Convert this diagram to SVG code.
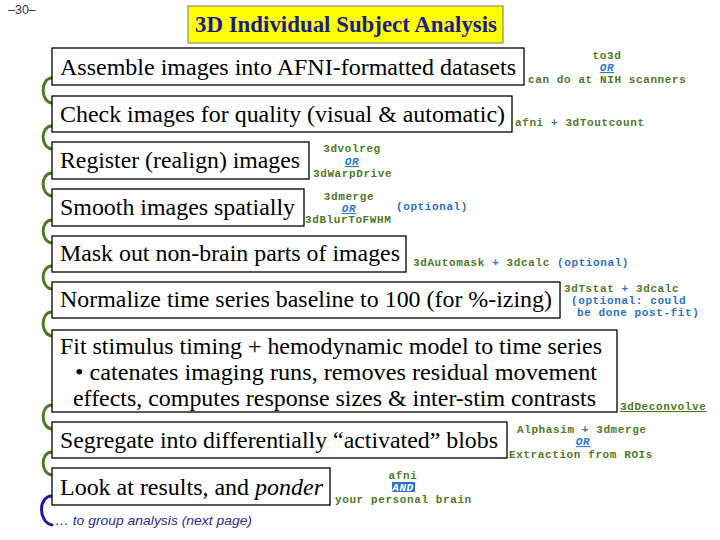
<svg xmlns="http://www.w3.org/2000/svg" width="720" height="540" viewBox="0 0 720 540">
<style>
.box{fill:#fff;stroke:#000;stroke-width:1.3}
.bt{font-family:"Liberation Serif","Times New Roman",serif;font-size:23.5px;fill:#000}
.an{font-family:"Liberation Mono","Courier New",monospace;font-size:11px;letter-spacing:0.6px;font-weight:bold;fill:#4f7a1f}
.bl{fill:#2a6fc9}
.or{fill:#2a7ad0;font-style:italic;text-decoration:underline}
.arc{fill:none;stroke:#4f7a1f;stroke-width:3;stroke-linecap:round}
.arcb{stroke:#1a1aa8}
</style>
<rect width="720" height="540" fill="#fff"/>
<text x="8" y="14" font-family="Liberation Sans,Arial,sans-serif" font-size="12.5" fill="#333">–30–</text>
<g id="title">
<rect x="188" y="6" width="315" height="37" fill="#ffff00" stroke="#777" stroke-width="1"/>
<text x="195" y="32" font-family="Liberation Serif,Times New Roman,serif" font-size="22.5" font-weight="bold" fill="#1c1c8c" textLength="302" lengthAdjust="spacingAndGlyphs">3D Individual Subject Analysis</text>
</g>
<g id="connectors">
<path class="arc" d="M52 78 C40 78,40 103,53 103"/>
<path class="arc" d="M52 126 C40 126,40 149,53 149"/>
<path class="arc" d="M52 173 C40 173,40 196,53 196"/>
<path class="arc" d="M52 220 C40 220,40 243,53 243"/>
<path class="arc" d="M52 266 C40 266,40 289,53 289"/>
<path class="arc" d="M52 312 C40 312,40 336,53 336"/>
<path class="arc" d="M52 405 C40 405,40 429,53 429"/>
<path class="arc" d="M52 452 C40 452,40 475,53 475"/>
<path class="arc arcb" d="M52 496 C38 496,38 522,52 525"/>
</g>
<g id="n1"><rect class="box" x="52" y="48" width="472" height="37"/><text class="bt" x="60" y="75" textLength="456" lengthAdjust="spacingAndGlyphs">Assemble images into AFNI-formatted datasets</text></g>
<g id="n2"><rect class="box" x="52" y="96" width="460" height="36"/><text class="bt" x="60" y="122" textLength="445" lengthAdjust="spacingAndGlyphs">Check images for quality (visual &amp; automatic)</text></g>
<g id="n3"><rect class="box" x="52" y="142" width="257" height="37"/><text class="bt" x="60" y="168" textLength="240" lengthAdjust="spacingAndGlyphs">Register (realign) images</text></g>
<g id="n4"><rect class="box" x="52" y="189" width="252" height="37"/><text class="bt" x="60" y="215" textLength="235" lengthAdjust="spacingAndGlyphs">Smooth images spatially</text></g>
<g id="n5"><rect class="box" x="52" y="236" width="354" height="36"/><text class="bt" x="60" y="261" textLength="340" lengthAdjust="spacingAndGlyphs">Mask out non-brain parts of images</text></g>
<g id="n6"><rect class="box" x="52" y="282" width="508" height="36"/><text class="bt" x="60" y="307" textLength="492" lengthAdjust="spacingAndGlyphs">Normalize time series baseline to 100 (for %-izing)</text></g>
<g id="n7"><rect class="box" x="52" y="330" width="565" height="82"/>
<text class="bt" x="60" y="354" textLength="542" lengthAdjust="spacingAndGlyphs">Fit stimulus timing + hemodynamic model to time series</text>
<text class="bt" x="75" y="380" textLength="522" lengthAdjust="spacingAndGlyphs">•  catenates imaging runs, removes residual movement</text>
<text class="bt" x="73" y="406" textLength="523" lengthAdjust="spacingAndGlyphs">effects, computes response sizes &amp; inter-stim contrasts</text></g>
<g id="n8"><rect class="box" x="52" y="422" width="455" height="36"/><text class="bt" x="60" y="448" textLength="438" lengthAdjust="spacingAndGlyphs">Segregate into differentially “activated” blobs</text></g>
<g id="n9"><rect class="box" x="52" y="468" width="278" height="37"/><text class="bt" x="60" y="495" textLength="263" lengthAdjust="spacingAndGlyphs">Look at results, and <tspan font-style="italic">ponder</tspan></text></g>
<g id="a1">
<text class="an" x="607" y="59" text-anchor="middle">to3d</text>
<text class="an or" x="607" y="71" text-anchor="middle">OR</text>
<text class="an" x="528" y="83">can do at NIH scanners</text>
</g>
<g id="a2"><text class="an" x="515" y="126">afni <tspan class="bl">+</tspan> 3dToutcount</text></g>
<g id="a3">
<text class="an" x="352" y="152" text-anchor="middle">3dvolreg</text>
<text class="an or" x="352" y="165" text-anchor="middle">OR</text>
<text class="an" x="313" y="177">3dWarpDrive</text>
</g>
<g id="a4">
<text class="an" x="349" y="200" text-anchor="middle">3dmerge</text>
<text class="an or" x="349" y="212" text-anchor="middle">OR</text>
<text class="an" x="305" y="223">3dBlurToFWHM</text>
<text class="an bl" x="396" y="210">(optional)</text>
</g>
<g id="a5"><text class="an" x="413" y="266">3dAutomask <tspan class="bl">+</tspan> 3dcalc <tspan class="bl">(optional)</tspan></text></g>
<g id="a6">
<text class="an" x="564" y="292">3dTstat <tspan class="bl">+</tspan> 3dcalc</text>
<text class="an bl" x="571" y="304">(optional: could</text>
<text class="an bl" x="577" y="316">be done post-fit)</text>
</g>
<g id="a7"><text class="an" x="620" y="410" text-decoration="underline">3dDeconvolve</text></g>
<g id="a8">
<text class="an" x="517" y="433">Alphasim <tspan class="bl">+</tspan> 3dmerge</text>
<text class="an or" x="583" y="445" text-anchor="middle">OR</text>
<text class="an" x="509" y="458">Extraction from ROIs</text>
</g>
<g id="a9">
<text class="an" x="403" y="479" text-anchor="middle">afni</text>
<rect x="392" y="482" width="23" height="10" fill="#2f6fd0"/>
<text class="an" x="403" y="491" text-anchor="middle" style="fill:#fff;font-style:italic;text-decoration:underline">AND</text>
<text class="an" x="335" y="503">your personal brain</text>
</g>
<g id="footer"><text x="55" y="525" font-family="Liberation Sans,Arial,sans-serif" font-size="13.5" font-style="italic" fill="#2a2a90" textLength="197" lengthAdjust="spacingAndGlyphs">… to group analysis (next page)</text></g>
</svg>
